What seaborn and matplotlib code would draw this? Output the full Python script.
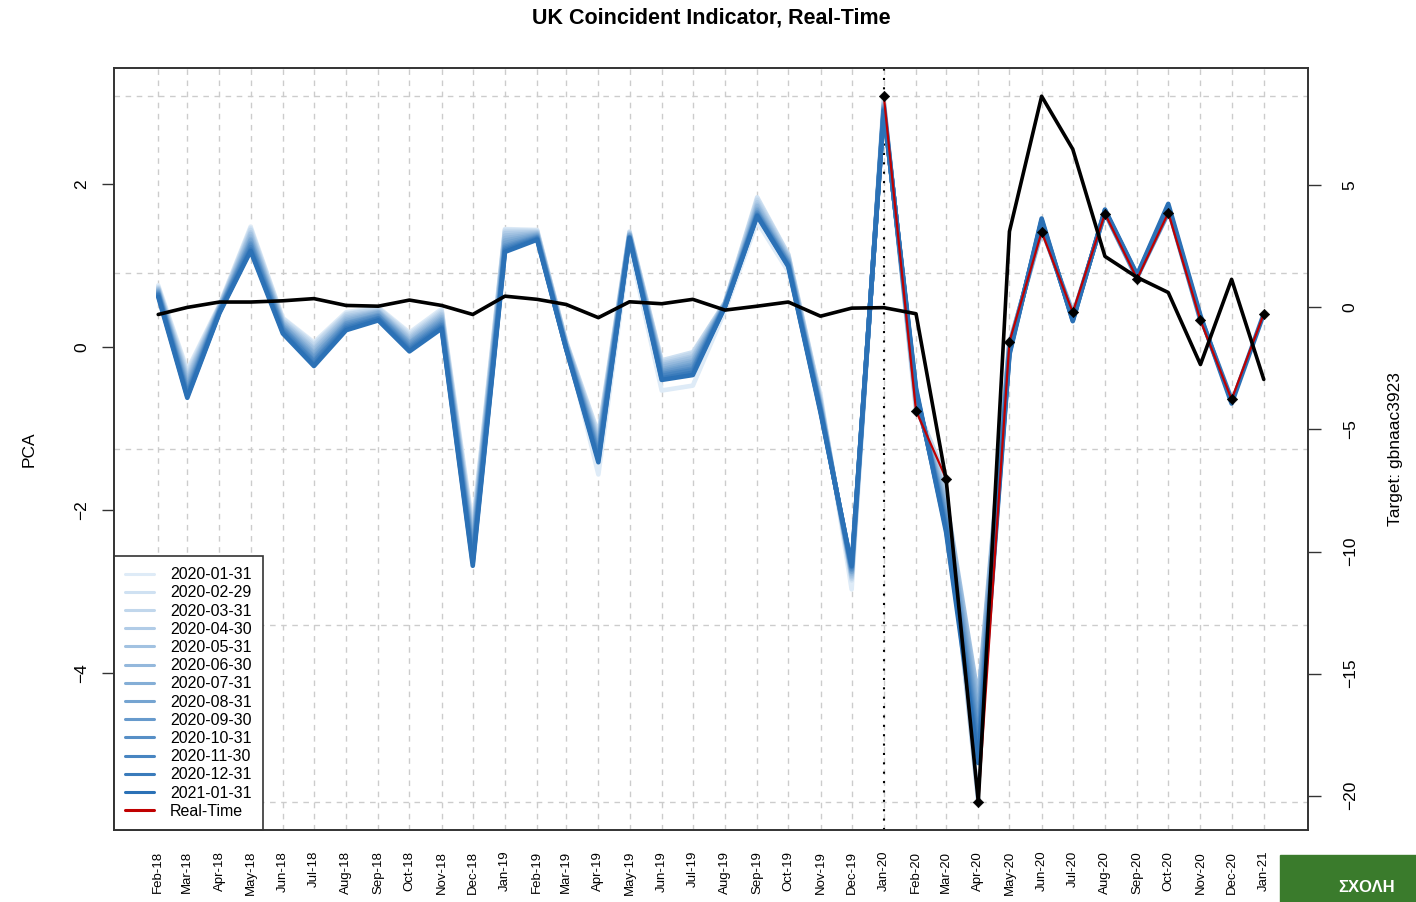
import numpy as np
import pandas as pd
import seaborn as sns
import matplotlib.pyplot as plt
from matplotlib.lines import Line2D
from matplotlib.patches import Rectangle

# monthly x axis
months = pd.date_range('2018-02-01', '2021-01-01', freq='MS')

# PCA indicator, one list per data vintage
v2020_01 = [0.76, -0.28, 0.52, 1.48, 0.36, 0.06, 0.43, 0.49, 0.18, 0.47, -2.20, 1.45, 1.44, 0.06, -1.56, 1.25, -0.53, -0.47, 0.45, 1.54, 0.93, -0.58, -2.97, 3.08]
v2020_02 = [0.74, -0.31, 0.51, 1.46, 0.35, 0.04, 0.41, 0.48, 0.16, 0.45, -2.24, 1.44, 1.43, 0.07, -1.06, 1.42, -0.16, -0.06, 0.55, 1.84, 1.14, -0.62, -2.86, 3.02, -0.78]
v2020_03 = [0.73, -0.34, 0.50, 1.44, 0.33, 0.02, 0.40, 0.47, 0.14, 0.43, -2.28, 1.42, 1.42, 0.06, -1.10, 1.41, -0.18, -0.08, 0.55, 1.81, 1.13, -0.64, -2.84, 3.00, -0.72, -1.61]
v2020_04 = [0.72, -0.37, 0.50, 1.41, 0.32, -0.01, 0.38, 0.45, 0.12, 0.41, -2.32, 1.40, 1.41, 0.05, -1.13, 1.40, -0.20, -0.11, 0.54, 1.78, 1.11, -0.66, -2.82, 2.99, -0.70, -1.80, -5.575]
v2020_05 = [0.71, -0.40, 0.49, 1.39, 0.30, -0.03, 0.36, 0.44, 0.10, 0.39, -2.36, 1.37, 1.40, 0.04, -1.16, 1.39, -0.22, -0.13, 0.54, 1.75, 1.10, -0.68, -2.80, 2.98, -0.68, -1.86, -4.30, 0.07]
v2020_06 = [0.70, -0.43, 0.48, 1.36, 0.29, -0.06, 0.34, 0.43, 0.08, 0.37, -2.40, 1.34, 1.39, 0.03, -1.19, 1.38, -0.24, -0.16, 0.53, 1.73, 1.08, -0.70, -2.78, 2.97, -0.65, -1.92, -4.40, 0.05, 1.415]
v2020_07 = [0.69, -0.46, 0.47, 1.33, 0.27, -0.08, 0.32, 0.42, 0.06, 0.35, -2.44, 1.31, 1.38, 0.02, -1.22, 1.38, -0.27, -0.18, 0.53, 1.70, 1.07, -0.72, -2.76, 2.96, -0.63, -1.98, -4.50, 0.03, 1.45, 0.43]
v2020_08 = [0.68, -0.49, 0.46, 1.31, 0.26, -0.11, 0.30, 0.40, 0.05, 0.33, -2.48, 1.28, 1.37, 0.01, -1.25, 1.37, -0.29, -0.21, 0.52, 1.68, 1.05, -0.73, -2.75, 2.95, -0.61, -2.03, -4.60, 0.01, 1.48, 0.39, 1.64]
v2020_09 = [0.67, -0.52, 0.46, 1.28, 0.24, -0.13, 0.29, 0.39, 0.03, 0.31, -2.52, 1.25, 1.36, 0.00, -1.28, 1.36, -0.31, -0.23, 0.52, 1.66, 1.04, -0.74, -2.73, 2.94, -0.59, -2.08, -4.70, -0.01, 1.50, 0.37, 1.65, 0.84]
v2020_10 = [0.66, -0.55, 0.45, 1.26, 0.23, -0.16, 0.27, 0.38, 0.01, 0.29, -2.56, 1.23, 1.35, -0.01, -1.31, 1.35, -0.33, -0.26, 0.51, 1.65, 1.03, -0.76, -2.72, 2.93, -0.57, -2.13, -4.80, -0.03, 1.52, 0.35, 1.66, 0.86, 1.65]
v2020_11 = [0.65, -0.57, 0.44, 1.23, 0.21, -0.18, 0.25, 0.36, -0.01, 0.27, -2.60, 1.21, 1.34, -0.01, -1.34, 1.35, -0.35, -0.28, 0.51, 1.63, 1.01, -0.77, -2.70, 2.92, -0.55, -2.18, -4.90, -0.05, 1.54, 0.34, 1.67, 0.87, 1.70, 0.33]
v2020_12 = [0.64, -0.60, 0.43, 1.20, 0.19, -0.21, 0.23, 0.35, -0.03, 0.25, -2.64, 1.19, 1.33, -0.02, -1.38, 1.34, -0.38, -0.31, 0.50, 1.62, 1.00, -0.78, -2.69, 2.91, -0.53, -2.23, -5.00, -0.07, 1.56, 0.33, 1.68, 0.88, 1.73, 0.37, -0.64]
v2021_01 = [0.62, -0.62, 0.42, 1.18, 0.17, -0.23, 0.21, 0.33, -0.05, 0.23, -2.68, 1.17, 1.32, -0.02, -1.41, 1.34, -0.40, -0.34, 0.50, 1.61, 0.99, -0.80, -2.68, 2.90, -0.50, -2.27, -5.10, -0.09, 1.58, 0.32, 1.69, 0.89, 1.76, 0.39, -0.69, 0.41]

vintage_labels = ['2020-01-31', '2020-02-29', '2020-03-31', '2020-04-30', '2020-05-31',
                  '2020-06-30', '2020-07-31', '2020-08-31', '2020-09-30', '2020-10-31',
                  '2020-11-30', '2020-12-31', '2021-01-31']
vintages = [v2020_01, v2020_02, v2020_03, v2020_04, v2020_05, v2020_06, v2020_07,
            v2020_08, v2020_09, v2020_10, v2020_11, v2020_12, v2021_01]

# target series gbnaac3923 (right axis)
target = [-0.29, 0.00, 0.22, 0.22, 0.27, 0.36, 0.08, 0.05, 0.30, 0.08,
          -0.29, 0.46, 0.33, 0.12, -0.42, 0.23, 0.15, 0.33, -0.11, 0.05,
          0.22, -0.36, -0.03, -0.01, -0.26, -7.05, -20.25, 3.11, 8.65, 6.48,
          2.09, 1.23, 0.61, -2.34, 1.15, -2.95]

# long table of vintages
df = pd.concat([
    pd.DataFrame({'date': months[:len(v)], 'pca': v, 'vintage': lab})
    for lab, v in zip(vintage_labels, vintages)
])
# real-time = last value of each vintage
rt = pd.DataFrame({'date': [months[len(v) - 1] for v in vintages],
                   'pca': [v[-1] for v in vintages]})
tg = pd.DataFrame({'date': months, 'target': target})

sns.set_style('white')
plt.rcParams['font.family'] = ['Liberation Sans', 'DejaVu Sans']
plt.rcParams.update({'text.color': 'black', 'axes.labelcolor': 'black',
                     'xtick.color': 'black', 'ytick.color': 'black'})

W, H = 1416, 902
fig = plt.figure(figsize=(W / 100, H / 100), dpi=100)
ax = fig.add_axes([114 / W, 1 - 830 / H, (1308 - 114) / W, (830 - 68) / H])

palette = sns.blend_palette(['#deebf7', '#2b71b6'], len(vintages))

# grid: every month, and 5 lines over the data range
lo, hi = df['pca'].min(), df['pca'].max()
for d in months:
    ax.axvline(d, color='#cccccc', lw=1, ls=(0, (4, 4)), zorder=0)
for yv in np.linspace(lo, hi, 5):
    ax.axhline(yv, color='#cccccc', lw=1, ls=(0, (4, 4)), zorder=0)

sns.lineplot(data=df, x='date', y='pca', hue='vintage', palette=palette,
             lw=3.3, ax=ax, legend=False, sort=False)
ax.axvline(months[23], color='black', lw=1.5, ls=(0, (1, 3.5)), zorder=1)
sns.lineplot(data=rt, x='date', y='pca', color='#c00000', lw=1.6, ax=ax)
sns.scatterplot(data=rt, x='date', y='pca', color='black', marker='D', s=28,
                edgecolor='black', zorder=5, ax=ax)

span = months[-1] - months[0]
ax.set_xlim(months[0] - 0.04 * span, months[-1] + 0.04 * span)
ax.set_ylim(lo - 0.04 * (hi - lo), hi + 0.04 * (hi - lo))

ax.set_xticks(months)
ax.set_xticklabels([d.strftime('%b-%y') for d in months], rotation=90,
                   fontsize=9.5, va='top', ha='center')
ax.set_yticks([2, 0, -2, -4])
ax.set_yticklabels(['2', '0', '\u22122', '\u22124'], rotation=90, va='center', fontsize=12.5)
ax.tick_params(axis='both', direction='out', length=9, width=1, color='#333333')
ax.tick_params(axis='y', pad=9)
ax.tick_params(axis='x', pad=6)
ax.set_xlabel('')
ax.set_ylabel('PCA', fontsize=12.5, labelpad=27)
for s in ax.spines.values():
    s.set_color('#333333')
    s.set_linewidth(1.2)

# target on right axis
ax2 = ax.twinx()
sns.lineplot(data=tg, x='date', y='target', color='black', lw=2.6, ax=ax2)
tlo, thi = min(target), max(target)
ax2.set_ylim(tlo - 0.04 * (thi - tlo), thi + 0.04 * (thi - tlo))
ax2.set_xlim(ax.get_xlim())
ax2.set_yticks([5, 0, -5, -10, -15, -20])
ax2.set_yticklabels(['5', '0', '\u22125', '\u221210', '\u221215', '\u221220'],
                    rotation=90, va='center', fontsize=12.5)
ax2.tick_params(axis='y', direction='out', length=9, width=1, color='#333333', pad=16)
ax2.set_ylabel('Target: gbnaac3923', fontsize=12.5, labelpad=22)
for s in ax2.spines.values():
    s.set_color('#333333')
    s.set_linewidth(1.2)

# legend
handles = [Line2D([], [], color=c, lw=2.2) for c in palette]
handles.append(Line2D([], [], color='#c00000', lw=2.2))
leg = ax.legend(handles, vintage_labels + ['Real-Time'], loc='lower left',
                bbox_to_anchor=(0, 0), borderaxespad=0, fontsize=11.5,
                frameon=True, fancybox=False, framealpha=1, edgecolor='#333333',
                handlelength=1.8, handletextpad=1.0, labelspacing=0.2,
                borderpad=0.7)
leg.get_frame().set_linewidth(1.2)
leg.set_zorder(10)

fig.text((114 + 1308) / 2 / W, 1 - 18 / H, 'UK Coincident Indicator, Real-Time',
         ha='center', va='center', fontsize=15.5, fontweight='bold')

# green banner in the lower right corner
fig.patches.append(Rectangle((1280 / W, 0), 136 / W, 47 / H,
                             transform=fig.transFigure, color='#3a7b2c', zorder=0))
fig.text(1338 / W, 1 - 887 / H, 'ΣΧΟΛΗ', color='white', fontweight='bold',
         fontsize=12, va='center', ha='left')

fig.savefig('out.png', dpi=100)
